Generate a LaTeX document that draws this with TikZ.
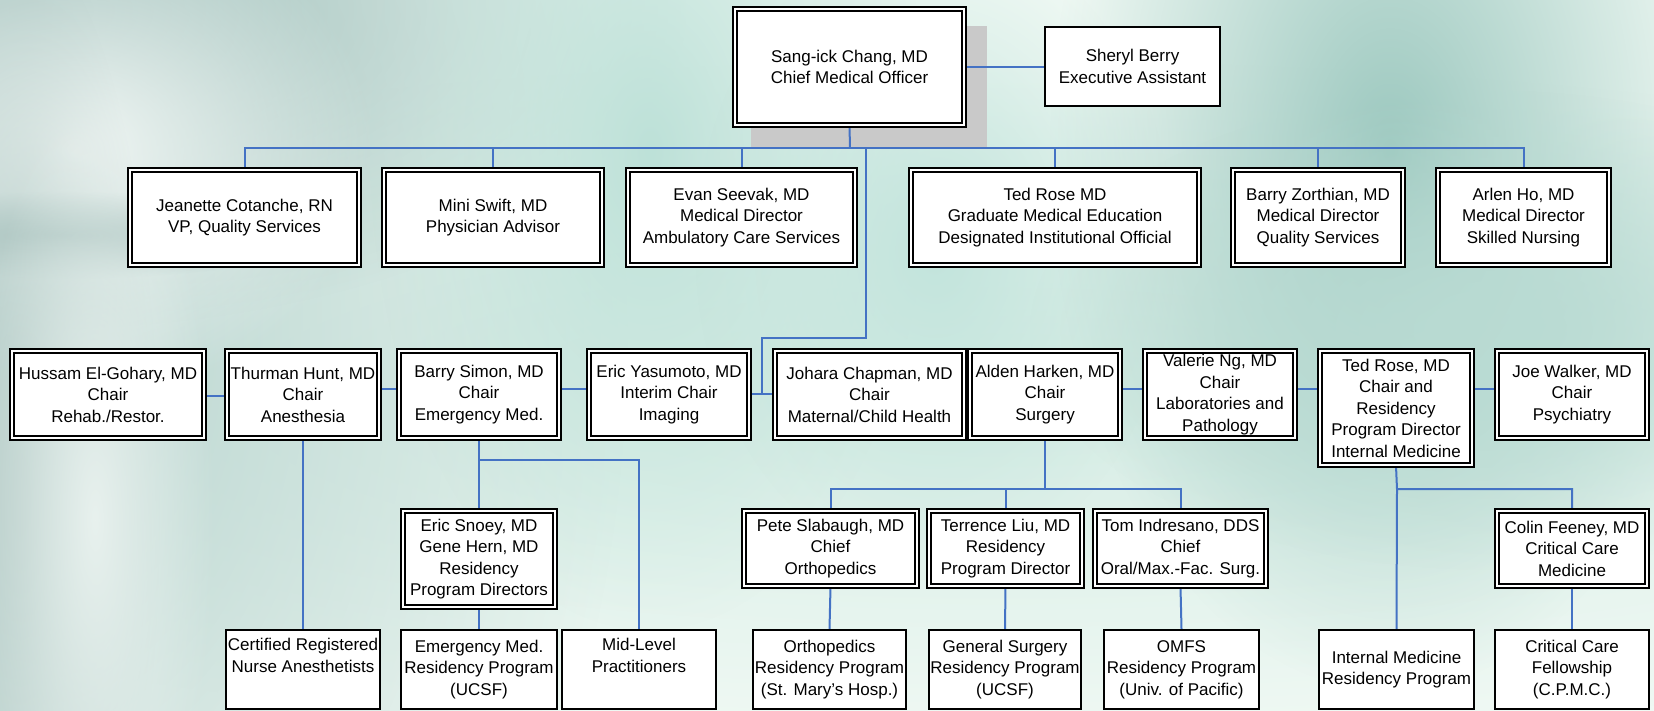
\documentclass[tikz,border=0pt]{standalone}
\usepackage{fontspec}
\setmainfont{Liberation Sans}
\usetikzlibrary{fadings}
\tikzfading[name=softblob, inner color=transparent!0, outer color=transparent!100]
\pgfdeclarelayer{back}
\pgfdeclarelayer{lines}
\pgfsetlayers{back,lines,main}
\definecolor{connblue}{RGB}{68,114,196}
\definecolor{bgbase}{HTML}{F0F9F4}
\definecolor{shadowgray}{HTML}{C9C9C9}
\tikzset{
  box/.style={align=center, inner sep=0pt, font=\fontsize{17}{21.5}\selectfont, fill=white, text=black},
  dbox/.style={box, draw=black, line width=1.7pt, double=white, double distance=2.2pt},
  sbox/.style={box, draw=black, line width=1.7pt},
  conn/.style={draw=connblue, line width=2pt},
  blob/.style={path fading=softblob},
}
\newcommand\BD[6]{\node[dbox, minimum width={(#4-#2-5.6)*1pt}, minimum height={(#5-#3-5.6)*1pt}] (#1) at ({(#2+#4)/2},{(#3+#5)/2}) {#6};}
\newcommand\BS[6]{\node[sbox, minimum width={(#4-#2-1.7)*1pt}, minimum height={(#5-#3-1.7)*1pt}] (#1) at ({(#2+#4)/2},{(#3+#5)/2}) {#6};}
% blob: colour, centre x, centre y, effective radii (fading reaches zero at these)
\newcommand\BLOB[5]{\fill[blob, color={rgb,255:#1}] (#2,#3) ellipse [x radius={2*#4}, y radius={2*#5}];}
\begin{document}
\begin{tikzpicture}[x=1pt,y=-1pt]
\useasboundingbox (0,0) rectangle (1654,711);
% background
\begin{pgfonlayer}{back}
\fill[bgbase] (0,0) rectangle (1654,711);
\BLOB{red,214;green,237;blue,229}{1000}{400}{760}{170}
\BLOB{red,185;green,212;blue,207}{30}{330}{300}{460}
\BLOB{red,163;green,194;blue,189}{30}{10}{330}{160}
\BLOB{red,242;green,247;blue,245}{75}{150}{150}{125}
\BLOB{red,168;green,194;blue,190}{60}{235}{130}{22}
\BLOB{red,182;green,204;blue,200}{20}{500}{70}{280}
\BLOB{red,232;green,241;blue,238}{95}{520}{60}{220}
\BLOB{red,189;green,225;blue,216}{650}{150}{140}{240}
\BLOB{red,194;green,228;blue,220}{935}{250}{120}{160}
\BLOB{red,156;green,200;blue,191}{1390}{150}{170}{270}
\BLOB{red,185;green,219;blue,211}{1490}{330}{230}{120}
\fill[shadowgray] (751,26) rectangle (987,148);
\end{pgfonlayer}

% top level
\BD{ceo}{732}{6}{967}{128}{Sang-ick Chang, MD\\Chief Medical Officer}
\BS{sheryl}{1044}{26}{1221}{107}{Sheryl Berry\\Executive Assistant}
\BD{jeanette}{127}{167}{362}{268}{Jeanette Cotanche, RN\\VP, Quality Services}
\BD{mini}{381}{167}{605}{268}{Mini Swift, MD\\Physician Advisor}
\BD{evan}{625}{167}{858}{268}{Evan Seevak, MD\\Medical Director\\Ambulatory Care Services}
\BD{tedgme}{908}{167}{1202}{268}{Ted Rose MD\\Graduate Medical Education\\Designated Institutional Official}
\BD{barryz}{1230}{167}{1406}{268}{Barry Zorthian, MD\\Medical Director\\Quality Services}
\BD{arlen}{1435}{167}{1612}{268}{Arlen Ho, MD\\Medical Director\\Skilled Nursing}

% chairs
\BD{hussam}{9}{348}{207}{441}{Hussam El-Gohary, MD\\Chair\\Rehab./Restor.}
\BD{thurman}{224}{348}{382}{441}{Thurman Hunt, MD\\Chair\\Anesthesia}
\BD{barrys}{396}{348}{562}{441}{Barry Simon, MD\\Chair\\Emergency Med.}
\BD{eric}{586}{348}{752}{441}{Eric Yasumoto, MD\\Interim Chair\\Imaging}
\BD{johara}{772}{348}{967}{441}{Johara Chapman, MD\\Chair\\Maternal/Child Health}
\BD{alden}{967}{348}{1123}{441}{Alden Harken, MD\\Chair\\Surgery}
\BD{valerie}{1142}{348}{1298}{441}{Valerie Ng, MD\\Chair\\Laboratories and\\Pathology}
\BD{tedim}{1317}{348}{1475}{468}{Ted Rose, MD\\Chair and\\Residency\\Program Director\\Internal Medicine}
\BD{joe}{1494}{348}{1650}{441}{Joe Walker, MD\\Chair\\Psychiatry}

% third row
\BD{snoey}{400}{508}{558}{610}{Eric Snoey, MD\\Gene Hern, MD\\Residency\\Program Directors}
\BD{pete}{741}{508}{920}{589}{Pete Slabaugh, MD\\Chief\\Orthopedics}
\BD{terrence}{926}{508}{1085}{589}{Terrence Liu, MD\\Residency\\Program Director}
\BD{tom}{1092}{508}{1269}{589}{Tom Indresano, DDS\\Chief\\Oral/Max.-Fac. Surg.}
\BD{colin}{1494}{508}{1650}{589}{Colin Feeney, MD\\Critical Care\\Medicine}

% bottom row
\BS{crna}{225}{629}{381}{710}{Certified Registered\\Nurse Anesthetists\\\strut}
\BS{emres}{400}{629}{558}{710}{Emergency Med.\\Residency Program\\(UCSF)}
\BS{mid}{561}{629}{717}{710}{Mid-Level\\Practitioners\\\strut}
\BS{ortho}{752}{629}{907}{710}{Orthopedics\\Residency Program\\(St. Mary’s Hosp.)}
\BS{gensurg}{928}{629}{1082}{710}{General Surgery\\Residency Program\\(UCSF)}
\BS{omfs}{1103}{629}{1260}{710}{OMFS\\Residency Program\\(Univ. of Pacific)}
\BS{imres}{1318}{629}{1475}{710}{Internal Medicine\\Residency Program}
\BS{ccf}{1494}{629}{1650}{710}{Critical Care\\Fellowship\\(C.P.M.C.)}

% connectors
\begin{pgfonlayer}{lines}
\coordinate (tbus) at (850,148);
\coordinate (trunk) at (866,148);
\coordinate (tj) at (762,394);
\coordinate (ebus) at (479,460);
\coordinate (sbus) at (1045,489);
\coordinate (ibus) at (1397,489);
\draw[conn] (ceo.east |- 0,67) -- (sheryl.west |- 0,67);
\draw[conn] (ceo.south) -- (tbus);
\draw[conn] (jeanette.north) |- (tbus) -| (arlen.north);
\draw[conn] (mini.north) -- (mini.north |- tbus);
\draw[conn] (evan.north) -- (evan.north |- tbus);
\draw[conn] (tedgme.north) -- (tedgme.north |- tbus);
\draw[conn] (barryz.north) -- (barryz.north |- tbus);
\draw[conn] (trunk) -- (866,338) -| (tj);
\draw[conn] (eric.east |- tj) -- (johara.west |- tj);
\draw[conn] (hussam.east |- 0,396) -- (thurman.west |- 0,396);
\draw[conn] (thurman.east |- 0,389) -- (barrys.west |- 0,389);
\draw[conn] (barrys.east |- 0,389) -- (eric.west |- 0,389);
\draw[conn] (alden.east |- 0,389) -- (valerie.west |- 0,389);
\draw[conn] (valerie.east |- 0,389) -- (tedim.west |- 0,389);
\draw[conn] (tedim.east |- 0,389) -- (joe.west |- 0,389);
\draw[conn] (thurman.south) -- (crna.north);
\draw[conn] (barrys.south) -- (ebus) -| (mid.north);
\draw[conn] (ebus) -- (snoey.north);
\draw[conn] (snoey.south) -- (emres.north);
\draw[conn] (alden.south) -- (sbus);
\draw[conn] (pete.north) |- (sbus) -| (tom.north);
\draw[conn] (terrence.north) -- (terrence.north |- sbus);
\draw[conn] (pete.south) -- (ortho.north);
\draw[conn] (terrence.south) -- (gensurg.north);
\draw[conn] (tom.south) -- (omfs.north);
\draw[conn] (tedim.south) -- (ibus) -| (colin.north);
\draw[conn] (ibus) -- (imres.north);
\draw[conn] (colin.south) -- (ccf.north);
\end{pgfonlayer}
\end{tikzpicture}
\end{document}
